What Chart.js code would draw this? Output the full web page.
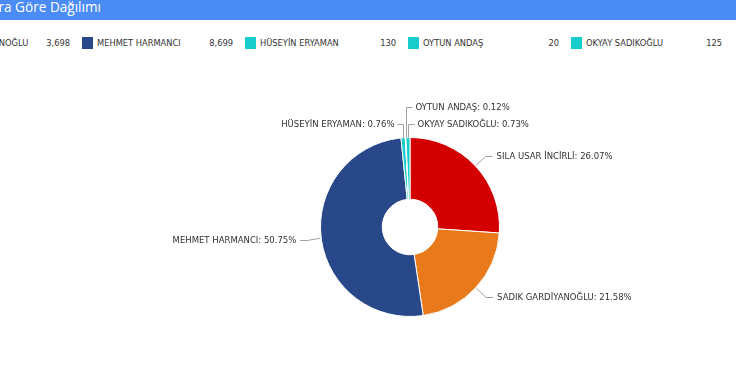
<!DOCTYPE html>
<html>
<head>
<meta charset="utf-8">
<script src="https://cdn.jsdelivr.net/npm/chart.js@4/dist/chart.umd.min.js"></script>
<style>
  html, body { margin: 0; padding: 0; width: 736px; height: 384px; overflow: hidden; background: #fff; }
  #header { position: absolute; left: 0; top: 0; width: 736px; height: 20px; background: #4a8bf5; overflow: hidden; }
  #title { position: absolute; right: 635px; top: -3px; white-space: nowrap; color: #fff;
           font-family: "Open Sans", sans-serif; font-size: 13.6px; line-height: 20px; }
  #legend { position: absolute; top: 37px; left: -244px; height: 12px; white-space: nowrap; }
  .item { position: absolute; top: 0; width: 163px; height: 12px; font-family: "DejaVu Sans", sans-serif;
          font-size: 8.3px; color: #333; }
  .sw { position: absolute; left: 0; top: 0; width: 11px; height: 12px; }
  .nm { position: absolute; left: 15px; top: 0; line-height: 12px; }
  .vl { position: absolute; right: 12px; top: 0; line-height: 12px; text-align: right; }
  #wrap { position: absolute; left: 0; top: 60px; width: 736px; height: 324px; }
</style>
</head>
<body>
<div id="header"><span id="title">Sorumlulara Göre Dağılımı</span></div>
<div id="legend"></div>
<div id="wrap"><canvas id="c" width="736" height="324"></canvas></div>
<script>
const categories = ["SILA USAR İNCİRLİ", "SADIK GARDİYANOĞLU", "MEHMET HARMANCI", "HÜSEYİN ERYAMAN", "OYTUN ANDAŞ", "OKYAY SADIKOĞLU"];
const values = [4468, 3698, 8699, 130, 20, 125];
const colors = ["#d40000", "#e87a1b", "#29488a", "#18cccc", "#18cccc", "#18cccc"];

const total = values.reduce((a, b) => a + b, 0);
const pct = values.map(v => (v / total * 100).toFixed(2) + "%");

// HTML legend
const legend = document.getElementById("legend");
categories.forEach((name, i) => {
  const d = document.createElement("div");
  d.className = "item";
  d.style.left = (i * 163) + "px";
  d.innerHTML = '<div class="sw" style="background:' + colors[i] + '"></div>' +
                '<span class="nm"></span><span class="vl"></span>';
  d.querySelector(".nm").textContent = name;
  d.querySelector(".vl").textContent = values[i].toLocaleString("en-US");
  legend.appendChild(d);
});

// small-slice label placement: side and stacking level
const smallPlacement = { 3: { side: -1, level: 1 }, 4: { side: 1, level: 2 }, 5: { side: 1, level: 1 } };

const outLabels = {
  id: "outLabels",
  afterDatasetsDraw(chart) {
    const ctx = chart.ctx;
    const meta = chart.getDatasetMeta(0);
    ctx.save();
    ctx.font = "8.5px 'DejaVu Sans'";
    ctx.fillStyle = "#333";
    ctx.strokeStyle = "#a0a0a0";
    ctx.lineWidth = 1;
    ctx.textBaseline = "middle";
    meta.data.forEach((arc, i) => {
      const p = arc.getProps(["x", "y", "startAngle", "endAngle", "outerRadius"], true);
      const mid = (p.startAngle + p.endAngle) / 2;
      const cos = Math.cos(mid), sin = Math.sin(mid);
      const R = p.outerRadius;
      const text = categories[i] + ": " + pct[i];
      let pts, tx, ty, align;
      if (smallPlacement[i]) {
        const sp = smallPlacement[i];
        const x0 = Math.round(p.x + R * cos) + 0.5;
        const y0 = p.y + R * sin;
        ty = Math.round(p.y - R - 14 - (sp.level - 1) * 17) + 0.5;
        const x2 = x0 + sp.side * 6;
        pts = [[x0, y0], [x0, ty], [x2, ty]];
        tx = x2 + sp.side * 3;
        align = sp.side > 0 ? "left" : "right";
      } else {
        const side = cos >= 0 ? 1 : -1;
        const x0 = p.x + (R + 1) * cos, y0 = p.y + (R + 1) * sin;
        const x1 = p.x + (R + 14) * cos;
        ty = Math.round(p.y + (R + 14) * sin) + 0.5;
        const x2 = x1 + side * 7;
        pts = [[x0, y0], [x1, ty], [x2, ty]];
        tx = x2 + side * 4;
        align = side > 0 ? "left" : "right";
      }
      ctx.beginPath();
      ctx.moveTo(pts[0][0], pts[0][1]);
      for (let k = 1; k < pts.length; k++) ctx.lineTo(pts[k][0], pts[k][1]);
      ctx.stroke();
      ctx.textAlign = align;
      ctx.fillText(text, tx, ty + 0.5);
    });
    ctx.restore();
  }
};

new Chart(document.getElementById("c"), {
  type: "doughnut",
  data: {
    labels: categories,
    datasets: [{
      data: values,
      backgroundColor: colors,
      borderColor: "#ffffff",
      borderWidth: 1
    }]
  },
  options: {
    responsive: false,
    animation: false,
    cutout: "31%",
    layout: { padding: { left: 84, right: 0, top: 77, bottom: 67 } },
    plugins: {
      legend: { display: false },
      tooltip: { enabled: false },
      title: { display: false }
    }
  },
  plugins: [outLabels]
});
</script>
</body>
</html>
